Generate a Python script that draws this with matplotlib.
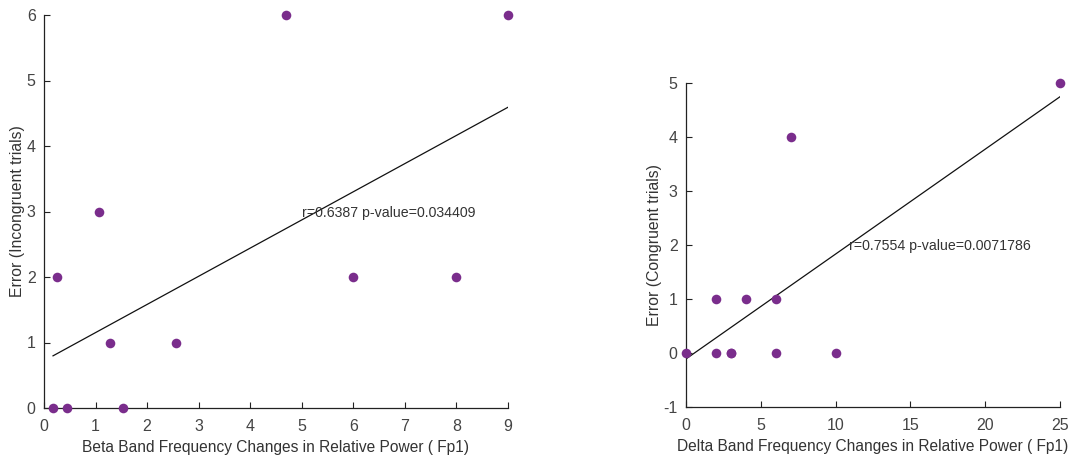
import numpy as np
import matplotlib
matplotlib.use("Agg")
import matplotlib.pyplot as plt

plt.rcParams['font.family'] = ['Liberation Sans', 'DejaVu Sans']
plt.rcParams['axes.unicode_minus'] = False

# Left panel: Beta band vs incongruent errors
beta_x = [0.175, 0.45, 1.53, 0.26, 1.07, 1.28, 2.57, 4.70, 6.0, 8.0, 9.0]
beta_y = [0, 0, 0, 2, 3, 1, 1, 6, 2, 2, 6]
beta_text = "r=0.6387 p-value=0.034409"

# Right panel: Delta band vs congruent errors
delta_x = [0, 2, 2, 3, 3, 4, 6, 6, 7, 10, 25]
delta_y = [0, 1, 0, 0, 0, 1, 1, 0, 4, 0, 5]
delta_text = "r=0.7554 p-value=0.0071786"

purple = '#7a2d8c'
txt = '#333333'

fig = plt.figure(figsize=(10.70, 4.59), dpi=100)
ax1 = fig.add_axes([44/1070, 1-408/459, (508-44)/1070, (408-15)/459])
ax2 = fig.add_axes([686/1070, 1-407/459, (1060-686)/1070, (407-83)/459])

def style(ax):
    for s in ['top', 'right']:
        ax.spines[s].set_visible(False)
    for s in ['left', 'bottom']:
        ax.spines[s].set_color('#222222')
        ax.spines[s].set_linewidth(0.9)
    ax.tick_params(direction='in', length=4, width=0.8, color='#222222',
                   labelsize=11.5, labelcolor='#444444')
    ax.tick_params(axis='x', pad=8)
    ax.tick_params(axis='y', pad=6)

def panel(ax, x, y, label_txt, tx, ty, xlabel, ylabel, xlim, ylim, xticks, yticks):
    x = np.asarray(x, float); y = np.asarray(y, float)
    ax.scatter(x, y, s=48, color=purple, zorder=3, clip_on=False, linewidths=0)
    m, b = np.polyfit(x, y, 1)
    xs = np.array([x.min(), x.max()])
    ax.plot(xs, m*xs + b, color='#111111', lw=0.9, zorder=2)
    ax.text(tx, ty, label_txt, fontsize=10.2, color=txt, va='center', ha='left')
    ax.set_xlim(*xlim); ax.set_ylim(*ylim)
    ax.set_xticks(xticks); ax.set_yticks(yticks)
    ax.set_xlabel(xlabel, fontsize=11.2, color=txt, labelpad=4)
    ax.set_ylabel(ylabel, fontsize=11.3, color=txt, labelpad=1)
    style(ax)

panel(ax1, beta_x, beta_y, beta_text, 5.0, 2.97,
      'Beta Band Frequency Changes in Relative Power ( Fp1)',
      'Error (Incongruent trials)', (0, 9), (0, 6), range(0, 10), range(0, 7))
panel(ax2, delta_x, delta_y, delta_text, 10.9, 1.98,
      'Delta Band Frequency Changes in Relative Power ( Fp1)',
      'Error (Congruent trials)', (0, 25), (-1, 5), range(0, 26, 5), range(-1, 6))

fig.savefig('out.png', dpi=100)
